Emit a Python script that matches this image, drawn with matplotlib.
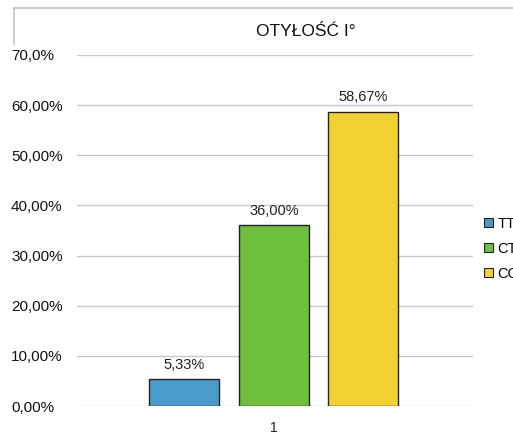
import matplotlib
matplotlib.use("Agg")
import matplotlib.pyplot as plt
from matplotlib.patches import Patch
from matplotlib.lines import Line2D

plt.rcParams['font.family'] = ['Liberation Sans', 'DejaVu Sans']

title = "OTYŁOŚĆ I°"
series = ["TT", "CT", "CC"]
values = [5.33, 36.00, 58.67]
colors = ["#4a9bcc", "#6ec03c", "#f2d233"]
category = ["1"]
yticks = [0, 10, 20, 30, 40, 50, 60, 70]
ytick_labels = ["0,00%", "10,00%", "20,00%", "30,00%", "40,00%", "50,00%", "60,00%", "70,0%"]

W, H = 513, 437
fig = plt.figure(figsize=(W / 100, H / 100), dpi=100)
fig.patch.set_facecolor("white")

# plot area in pixel coordinates
x0, x1, ytop, ybot = 77, 473, 55, 406
ax = fig.add_axes([x0 / W, (H - ybot) / H, (x1 - x0) / W, (ybot - ytop) / H])

offsets = [-0.227, 0.0, 0.226]
width = 0.177
for name, v, c, off in zip(series, values, colors, offsets):
    ax.bar(off, v, width=width, color=c, edgecolor="#222222", linewidth=1.0, label=name, zorder=3)
    ax.text(off, v + 1.5, f"{v:.2f}%".replace(".", ","), ha="center", va="bottom",
            fontsize=10.5, color="#222222", zorder=4)

ax.set_xlim(-0.497, 0.503)
ax.set_ylim(0, 70)
ax.set_yticks(yticks)
ax.set_yticklabels(ytick_labels, fontsize=11, color="#111111")
for lbl in ax.get_yticklabels():
    lbl.set_horizontalalignment("left")
ax.set_xticks([0])
ax.set_xticklabels(category, fontsize=10, color="#222222")
ax.tick_params(axis="both", length=0)
ax.tick_params(axis="y", pad=(x0 - 11) * 0.72)
ax.tick_params(axis="x", pad=11)
ax.grid(axis="y", color="#c8c8c8", linewidth=1.0, zorder=0)
for s in ax.spines.values():
    s.set_visible(False)

fig.text(306 / W, 1 - 31 / H, title, ha="center", va="center", fontsize=12.5, color="#111111")

# chart area border (partially visible)
fig.add_artist(Line2D([14 / W, 1.0], [1 - 8 / H, 1 - 8 / H], color="#c4c4c4", linewidth=1.2))
fig.add_artist(Line2D([14 / W, 14 / W], [1 - 8 / H, 1 - 44 / H], color="#c4c4c4", linewidth=1.2))

handles = [Patch(facecolor=c, edgecolor="#222222", linewidth=0.8) for c in colors]
fig.legend(handles, series, loc="upper left", bbox_to_anchor=(484 / W, 1 - 217 / H),
           frameon=False, fontsize=10.5, handlelength=0.6, handleheight=0.6,
           handletextpad=0.3, labelspacing=0.75, borderaxespad=0, borderpad=0)

fig.savefig("out.png", dpi=100)
